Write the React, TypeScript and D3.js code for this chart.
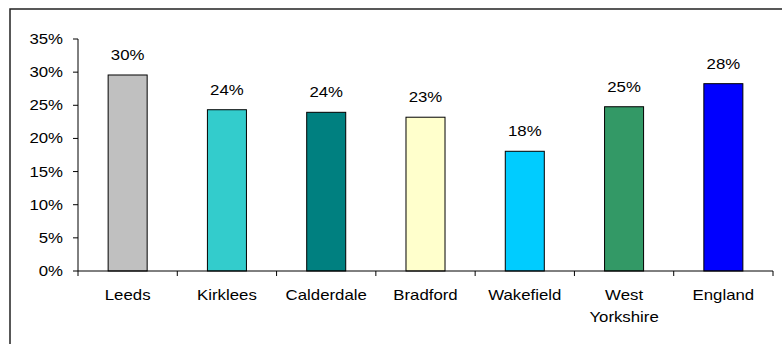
import React from "react";
import * as d3 from "d3";

const categories = ["Leeds", "Kirklees", "Calderdale", "Bradford", "Wakefield", "West Yorkshire", "England"];
const values = [0.2957, 0.2433, 0.2394, 0.232, 0.1806, 0.2478, 0.2826];
const valueLabels = ["30%", "24%", "24%", "23%", "18%", "25%", "28%"];
const colors = ["#C0C0C0", "#33CCCC", "#008080", "#FFFFCC", "#00CCFF", "#339966", "#0000FF"];
const categoryLines = [["Leeds"], ["Kirklees"], ["Calderdale"], ["Bradford"], ["Wakefield"], ["West", "Yorkshire"], ["England"]];
const yTicks = [0, 0.05, 0.1, 0.15, 0.2, 0.25, 0.3, 0.35];

const W = 782;
const H = 344;
const left = 78;
const right = 773;
const top = 39;
const bottom = 271;
const SX = 1.2;
const FONT = "'Liberation Sans', Arial, sans-serif";

export default function App() {
  const xSlots = d3.scaleBand<string>().domain(categories).range([left, right]).padding(0);
  const xBars = d3.scaleBand<string>().domain(categories).range([left, right]).paddingInner(0.607).paddingOuter(0.3035);
  const y = d3.scaleLinear().domain([0, 0.35]).range([bottom, top]);
  const fmt = d3.format(".0%");

  const T = (x: number, yy: number, s: string, anchor: string, key?: string) => (
    <text
      key={key}
      transform={`translate(${x},${yy}) scale(${SX},1)`}
      textAnchor={anchor as any}
      fontFamily={FONT}
      fontSize={14}
      fill="#000"
    >
      {s}
    </text>
  );

  const boundaries = categories.map((c) => xSlots(c) as number).concat([right]);

  return (
    <div style={{ position: "absolute", left: 0, top: 0 }}>
      <svg width={W} height={H} style={{ display: "block" }}>
        <rect x={0} y={0} width={W} height={H} fill="#fff" />
        <rect x={10} y={9} width={W + 20} height={H + 20} fill="none" stroke="#222" strokeWidth={1.5} />
        {/* bars */}
        {categories.map((c, i) => {
          const x0 = xBars(c) as number;
          const bw = xBars.bandwidth();
          const yt = y(values[i]);
          return (
            <g key={c}>
              <rect x={x0} y={yt} width={bw} height={bottom - yt} fill={colors[i]} stroke="#000" strokeWidth={1} />
              {T(x0 + bw / 2, yt - 15, valueLabels[i], "middle")}
            </g>
          );
        })}
        {/* y axis */}
        <line x1={left} x2={left} y1={top} y2={bottom} stroke="#000" strokeWidth={1} />
        {yTicks.map((t) => (
          <g key={t}>
            <line x1={left - 5} x2={left} y1={y(t)} y2={y(t)} stroke="#000" strokeWidth={1} />
            {T(left - 15, y(t) + 5, fmt(t), "end")}
          </g>
        ))}
        {/* x axis */}
        <line x1={left} x2={right} y1={bottom} y2={bottom} stroke="#000" strokeWidth={1} />
        {boundaries.map((bx, i) => (
          <line key={i} x1={bx} x2={bx} y1={bottom} y2={bottom + 5} stroke="#000" strokeWidth={1} />
        ))}
        {categories.map((c, i) => {
          const cx = (xSlots(c) as number) + xSlots.bandwidth() / 2;
          return (
            <g key={c + "-lab"}>
              {categoryLines[i].map((line, j) => T(cx, bottom + 29 + j * 21.7, line, "middle", c + j))}
            </g>
          );
        })}
      </svg>
    </div>
  );
}
